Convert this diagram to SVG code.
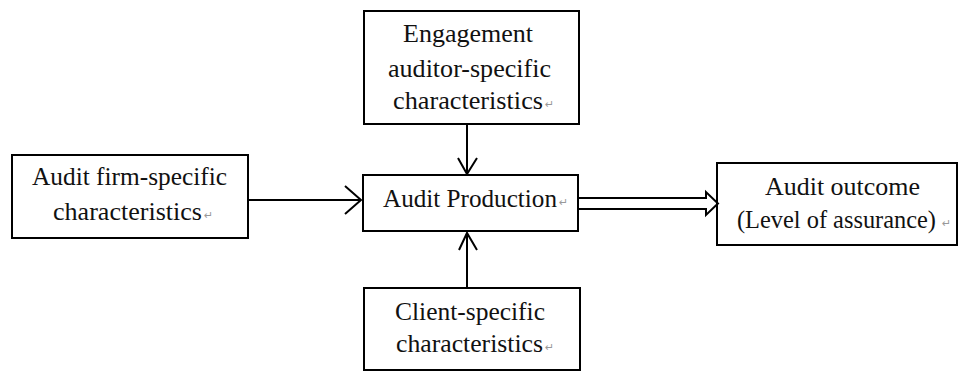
<svg xmlns="http://www.w3.org/2000/svg" width="959" height="372" viewBox="0 0 959 372">
<style>
.box{fill:#fff;stroke:#000;stroke-width:2}
.t{font-family:"Liberation Serif","Times New Roman",serif;font-size:25px;fill:#111}
.r{font-family:"DejaVu Sans",sans-serif;font-size:11px;fill:#999}
.ln{fill:none;stroke:#000;stroke-width:2}
</style>
<rect width="959" height="372" fill="#fff"/>
<g id="engagement">
<rect class="box" x="364" y="11" width="215" height="113"/>
<text class="t" x="403" y="42" textLength="130" lengthAdjust="spacingAndGlyphs">Engagement</text>
<text class="t" x="388" y="77" textLength="163" lengthAdjust="spacingAndGlyphs">auditor-specific</text>
<text class="t" x="393" y="109" textLength="150" lengthAdjust="spacingAndGlyphs">characteristics</text>
<text class="r" x="545" y="108">↵</text>
</g>
<g id="firm">
<rect class="box" x="12" y="155" width="236" height="83"/>
<text class="t" x="32" y="185" textLength="195" lengthAdjust="spacingAndGlyphs">Audit firm-specific</text>
<text class="t" x="53" y="220" textLength="149" lengthAdjust="spacingAndGlyphs">characteristics</text>
<text class="r" x="204" y="219">↵</text>
</g>
<g id="production">
<rect class="box" x="363" y="175" width="215" height="56"/>
<text class="t" x="383" y="207" textLength="174" lengthAdjust="spacingAndGlyphs">Audit Production</text>
<text class="r" x="559" y="206">↵</text>
</g>
<g id="outcome">
<rect class="box" x="717" y="163" width="240" height="82"/>
<text class="t" x="765" y="195" textLength="155" lengthAdjust="spacingAndGlyphs">Audit outcome</text>
<text class="t" x="737" y="228" textLength="199" lengthAdjust="spacingAndGlyphs">(Level of assurance)</text>
<text class="r" x="942" y="227">↵</text>
</g>
<g id="client">
<rect class="box" x="364" y="288" width="216" height="82"/>
<text class="t" x="395" y="320" textLength="150" lengthAdjust="spacingAndGlyphs">Client-specific</text>
<text class="t" x="396" y="352" textLength="147" lengthAdjust="spacingAndGlyphs">characteristics</text>
<text class="r" x="545" y="351">↵</text>
</g>
<g id="connectors">
<path class="ln" d="M467,124 V174 M458,158 L467,174 L477,158"/>
<path class="ln" d="M248,200 H361 M345,186 L361,200 L345,214"/>
<path class="ln" d="M467,288 V233 M459,250 L467,233 L477,250"/>
<path class="ln" d="M578,198 H706 V192 L718,203.5 L706,215 V209 H578"/>
</g>
</svg>
